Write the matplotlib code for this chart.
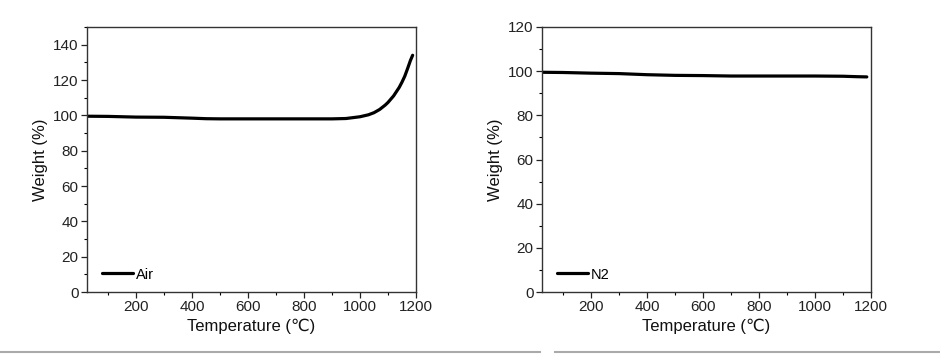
import matplotlib
matplotlib.use("Agg")
import matplotlib.pyplot as plt
from matplotlib.ticker import MultipleLocator
from matplotlib.lines import Line2D

plt.rcParams['font.family'] = ['Liberation Sans', 'DejaVu Sans']

# Air atmosphere TGA
air_temp = [25, 100, 200, 300, 400, 450, 500, 600, 700, 800, 900, 950, 1000, 1030,
            1050, 1070, 1090, 1100, 1120, 1140, 1150, 1160, 1170, 1180, 1188]
air_weight = [99.5, 99.4, 99.0, 98.9, 98.4, 98.1, 98.0, 98.0, 98.0, 98.0, 98.0, 98.2, 99.2, 100.3,
              101.5, 103.3, 105.8, 107.3, 111.0, 115.8, 118.8, 122.2, 126.5, 131.0, 134.0]

# N2 atmosphere TGA
n2_temp = [25, 100, 200, 300, 400, 500, 600, 700, 800, 900, 1000, 1100, 1150, 1185]
n2_weight = [99.5, 99.4, 99.1, 98.9, 98.4, 98.1, 98.0, 97.8, 97.8, 97.8, 97.8, 97.7, 97.5, 97.4]

xticks = [200, 400, 600, 800, 1000, 1200]

fig = plt.figure(figsize=(9.4, 3.55), dpi=100)
W, H = 940, 355

def make_ax(left_px, right_px, top_px, bottom_px):
    return fig.add_axes([left_px / W, 1 - bottom_px / H, (right_px - left_px) / W, (bottom_px - top_px) / H])

ax1 = make_ax(87, 416, 27, 292)
ax2 = make_ax(542, 871, 27, 292)

for ax, x, y, ylim, label in [
    (ax1, air_temp, air_weight, (0, 150), 'Air'),
    (ax2, n2_temp, n2_weight, (0, 120), 'N2'),
]:
    ax.plot(x, y, color='black', lw=2.3, label=label, solid_capstyle='round')
    ax.set_xlim(25, 1200)
    ax.set_ylim(*ylim)
    ax.set_xticks(xticks)
    ax.xaxis.set_minor_locator(MultipleLocator(100))
    ax.yaxis.set_major_locator(MultipleLocator(20))
    ax.yaxis.set_minor_locator(MultipleLocator(10))
    ax.tick_params(which='major', direction='out', length=4, width=0.9, labelsize=11,
                   colors='#222222', pad=2)
    ax.tick_params(which='minor', direction='out', length=2.5, width=0.8)
    for s in ax.spines.values():
        s.set_linewidth(1.0)
        s.set_color('#333333')
    ax.set_xlabel('Temperature (℃)', fontsize=12, labelpad=3, color='#111111')
    ax.set_ylabel('Weight (%)', fontsize=12, labelpad=4, color='#111111')
    ax.legend(loc='lower left', frameon=False, fontsize=10.5, handlelength=2.15,
              handletextpad=0.2, borderaxespad=0.5, bbox_to_anchor=(0.005, -0.01))

ax1.set_yticks([0, 20, 40, 60, 80, 100, 120, 140])

# thin gray separator lines at the bottom of the image
fig.add_artist(Line2D([0, 540 / W], [1 - 352 / H] * 2, color='#aaaaaa', lw=1.5, transform=fig.transFigure))
fig.add_artist(Line2D([555 / W, 1], [1 - 352 / H] * 2, color='#aaaaaa', lw=1.5, transform=fig.transFigure))

fig.savefig('out.png', dpi=100, facecolor='white')
